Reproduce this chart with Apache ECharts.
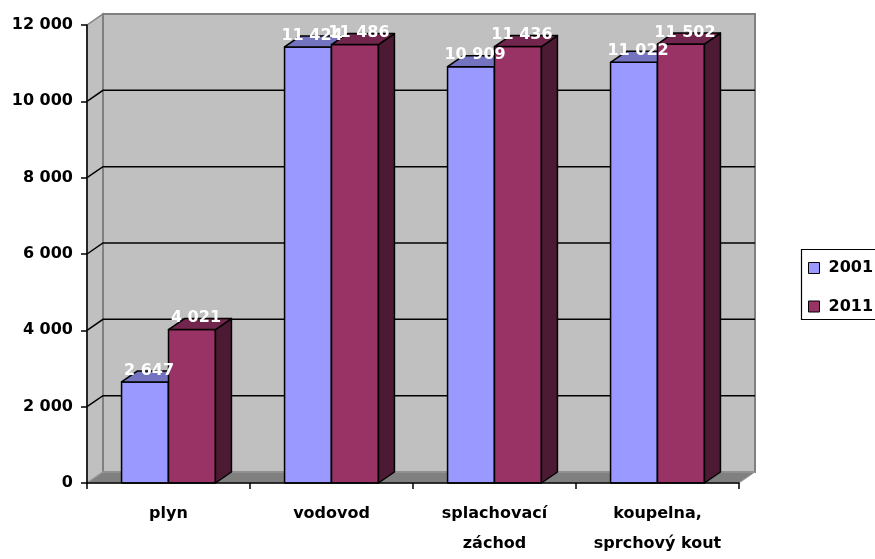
<!DOCTYPE html>
<html>
<head>
<meta charset="utf-8">
<script src="https://cdn.jsdelivr.net/npm/echarts@6/dist/echarts.min.js"></script>
<style>
html,body{margin:0;padding:0;background:#fff;overflow:hidden;}
#chart{width:875px;height:559px;}
</style>
</head>
<body>
<div id="chart"></div>
<script>
const categories = ['plyn', 'vodovod', 'splachovací\nzáchod', 'koupelna,\nsprchový kout'];
const seriesNames = ['2001', '2011'];
const values2001 = [2647, 11424, 10909, 11022];
const values2011 = [4021, 11486, 11436, 11502];
const yMin = 0, yMax = 12000, yInterval = 2000;

const FONT = '"DejaVu Sans", sans-serif';
const DX = 16, DY = -11;
const BAR_FRAC = 0.288;

function fmt(v) { return String(v).replace(/\B(?=(\d{3})+(?!\d))/g, ' '); }

const palettes = [
  { front: '#9999FF', top: '#7373BF', side: '#4D4D80' },
  { front: '#993366', top: '#73264D', side: '#4D1A33' }
];

function barGeom(api, off) {
  const ci = api.value(0), v = api.value(1);
  const c = api.coord([ci, v]);
  const b = api.coord([ci, 0]);
  const band = api.size([1, 0])[0];
  const w = band * BAR_FRAC;
  const x0 = c[0] - w + off * w;
  return { x0: x0, x1: x0 + w, yt: c[1], yb: b[1], w: w, v: v };
}

function makeBarRender(off) {
  const pal = palettes[off];
  return function (params, api) {
    const g = barGeom(api, off);
    const st = { stroke: '#000', lineWidth: 1.5, lineJoin: 'round' };
    return {
      type: 'group',
      children: [
        { type: 'polygon', shape: { points: [[g.x0, g.yt], [g.x1, g.yt], [g.x1, g.yb], [g.x0, g.yb]] },
          style: Object.assign({ fill: pal.front }, st) },
        { type: 'polygon', shape: { points: [[g.x1, g.yt], [g.x1 + DX, g.yt + DY], [g.x1 + DX, g.yb + DY], [g.x1, g.yb]] },
          style: Object.assign({ fill: pal.side }, st) },
        { type: 'polygon', shape: { points: [[g.x0, g.yt], [g.x1, g.yt], [g.x1 + DX, g.yt + DY], [g.x0 + DX, g.yt + DY]] },
          style: Object.assign({ fill: pal.top }, st) }
      ]
    };
  };
}

function makeLabelRender(off) {
  return function (params, api) {
    const g = barGeom(api, off);
    return {
      type: 'text',
      style: {
        x: g.x0 + g.w / 2 + 4, y: g.yt - 11.5,
        text: fmt(g.v), fill: '#fff',
        font: 'bold 16px ' + FONT,
        align: 'center', verticalAlign: 'middle'
      }
    };
  };
}

function wallsRender(params, api) {
  const cs = params.coordSys;
  const L = cs.x, T = cs.y, R = cs.x + cs.width, B = cs.y + cs.height;
  const ch = [];
  ch.push({ type: 'polygon', shape: { points: [[L, T], [L + DX, T + DY], [L + DX, B + DY], [L, B]] },
    style: { fill: '#C0C0C0', stroke: '#808080', lineWidth: 1.5 } });
  ch.push({ type: 'rect', shape: { x: L + DX, y: T + DY, width: R - L, height: B - T },
    style: { fill: '#C0C0C0', stroke: '#808080', lineWidth: 2 } });
  ch.push({ type: 'polygon', shape: { points: [[L, B], [R, B], [R + DX, B + DY], [L + DX, B + DY]] },
    style: { fill: '#808080', stroke: '#A0A0A0', lineWidth: 1 } });
  for (let v = yMin + yInterval; v < yMax; v += yInterval) {
    const y = api.coord([0, v])[1];
    ch.push({ type: 'polyline', shape: { points: [[L, y], [L + DX, y + DY], [R + DX, y + DY]] },
      style: { fill: null, stroke: '#000', lineWidth: 1.5 } });
  }
  return { type: 'group', children: ch };
}

const chart = echarts.init(document.getElementById('chart'), null, { renderer: 'canvas', width: 875, height: 559 });

const textBase = { fontFamily: FONT, fontWeight: 'bold', fontSize: 16, color: '#000' };

chart.setOption({
  animation: false,
  backgroundColor: '#fff',
  grid: { left: 87, top: 25, width: 652, height: 464, containLabel: false },
  xAxis: {
    type: 'category', data: categories, z: 10,
    axisLine: { lineStyle: { color: '#000', width: 1.5 } },
    axisTick: { show: true, length: 6, lineStyle: { color: '#000', width: 1.5 } },
    axisLabel: Object.assign({ margin: 16, lineHeight: 30, interval: 0 }, textBase),
    splitLine: { show: false }
  },
  yAxis: {
    type: 'value', min: yMin, max: yMax, interval: yInterval, z: 10,
    axisLine: { show: true, lineStyle: { color: '#000', width: 1.5 } },
    axisTick: { show: true, length: 6, lineStyle: { color: '#000', width: 1.5 } },
    axisLabel: Object.assign({ margin: 14, formatter: fmt }, textBase),
    splitLine: { show: false }
  },
  legend: {
    data: seriesNames,
    orient: 'vertical', left: 808, top: 260,
    padding: 0, itemWidth: 11, itemHeight: 11, itemGap: 22.5,
    icon: 'rect',
    itemStyle: { borderColor: '#000', borderWidth: 1 },
    textStyle: { fontFamily: FONT, fontWeight: 'bold', fontSize: 16, color: '#000', lineHeight: 16, padding: [0, 0, 0, 4] }
  },
  graphic: [
    { type: 'rect', left: 799, top: 247, shape: { width: 120, height: 70 },
      style: { fill: null, stroke: '#000', lineWidth: 1.2 }, silent: true }
  ],
  series: [
    { type: 'custom', name: 'walls', z: 1, silent: true, renderItem: wallsRender, data: [[0, 0]], clip: false },
    { type: 'custom', name: seriesNames[0], z: 2, itemStyle: { color: palettes[0].front },
      renderItem: makeBarRender(0), data: values2001.map((v, i) => [i, v]), clip: false },
    { type: 'custom', name: seriesNames[1], z: 3, itemStyle: { color: palettes[1].front },
      renderItem: makeBarRender(1), data: values2011.map((v, i) => [i, v]), clip: false },
    { type: 'custom', name: 'lab2001', z: 20, silent: true,
      renderItem: makeLabelRender(0), data: values2001.map((v, i) => [i, v]), clip: false },
    { type: 'custom', name: 'lab2011', z: 20, silent: true,
      renderItem: makeLabelRender(1), data: values2011.map((v, i) => [i, v]), clip: false }
  ]
});
</script>
</body>
</html>
